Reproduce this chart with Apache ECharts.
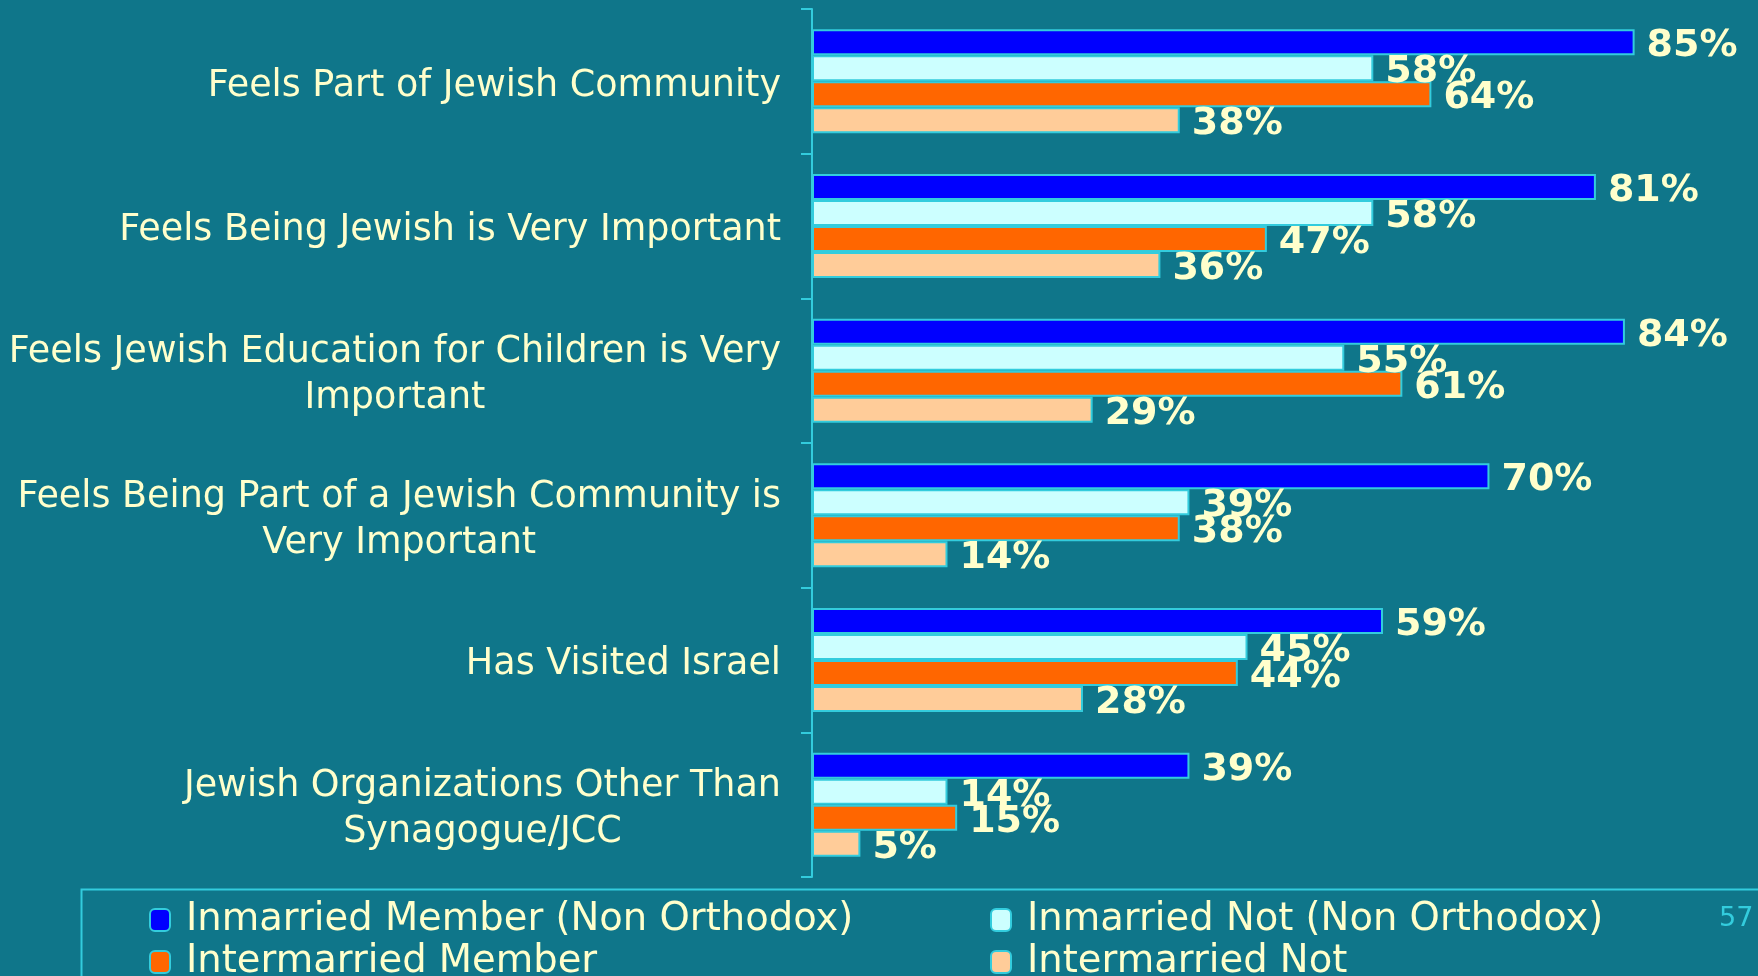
<!DOCTYPE html>
<html>
<head>
<meta charset="utf-8">
<script src="https://cdn.jsdelivr.net/npm/echarts@6/dist/echarts.min.js"></script>
<style>
html,body{margin:0;padding:0;background:#0f768a;}
#chart{width:1758px;height:976px;}
</style>
</head>
<body>
<div id="chart"></div>
<script>
const categories = [
  'Feels Part of Jewish Community',
  'Feels Being Jewish is Very Important',
  'Feels Jewish Education for Children is Very\nImportant',
  'Feels Being Part of a Jewish Community is\nVery Important',
  'Has Visited Israel',
  'Jewish Organizations Other Than\nSynagogue/JCC'
];
const seriesNames = [
  'Inmarried Member (Non Orthodox)',
  'Inmarried Not (Non Orthodox)',
  'Intermarried Member',
  'Intermarried Not'
];
const inmarriedMember = [85, 81, 84, 70, 59, 39];
const inmarriedNot = [58, 58, 55, 39, 45, 14];
const intermarriedMember = [64, 47, 61, 38, 44, 15];
const intermarriedNot = [38, 36, 29, 14, 28, 5];
const seriesValues = [inmarriedMember, inmarriedNot, intermarriedMember, intermarriedNot];
const seriesColors = ['#0000ff', '#ccffff', '#ff6600', '#ffcc99'];

const cream = '#ffffcc';
const cyan = '#33ccdd';
const font = 'DejaVu Sans';

const legendCommon = {
  type: 'plain',
  orient: 'vertical', top: 899, height: 140, padding: 0, itemGap: 0,
  itemWidth: 20, itemHeight: 22, itemTextGap: 14,
  textStyle: { color: cream, fontSize: 38.5, fontFamily: font, lineHeight: 42, padding: [0, 0, 0, 11] }
};

const chart = echarts.init(document.getElementById('chart'));
chart.setOption({
  backgroundColor: '#0f768a',
  animation: false,
  grid: { left: 812, right: 75, top: 9, bottom: 99, containLabel: false, outerBoundsMode: 'none' },
  xAxis: { type: 'value', min: 0, max: 90, show: false, splitLine: { show: false } },
  yAxis: {
    type: 'category',
    data: categories,
    inverse: true,
    axisLine: { show: true, lineStyle: { color: cyan, width: 2 } },
    axisTick: { show: true, length: 11, lineStyle: { color: cyan, width: 2 } },
    axisLabel: {
      margin: 31,
      fontSize: 36.5,
      fontFamily: font,
      color: cream,
      lineHeight: 46,
      padding: [10, 0, 0, 0],
      formatter: function (v) {
        return v.split('\n').map(function (l) { return '{c|' + l + '}'; }).join('\n');
      },
      rich: { c: { align: 'center', fontSize: 36.5, fontFamily: font, color: cream, lineHeight: 46 } }
    }
  },
  legend: [
    Object.assign({}, legendCommon, { data: [seriesNames[0], seriesNames[2]], left: 149 }),
    Object.assign({}, legendCommon, { data: [seriesNames[1], seriesNames[3]], left: 990 })
  ],
  graphic: [
    { type: 'rect', left: 79, top: 887, shape: { width: 1720, height: 150 },
      style: { fill: 'none', stroke: cyan, lineWidth: 2 }, silent: true },
    { type: 'text', left: 1719, top: 905,
      style: { text: '57', fill: cyan, fontSize: 27, fontFamily: font } }
  ],
  series: seriesNames.map(function (name, i) {
    return {
      name: name,
      type: 'bar',
      data: seriesValues[i],
      barWidth: 26,
      barGap: '0%',
      itemStyle: { color: seriesColors[i], borderColor: cyan, borderWidth: 2 },
      label: {
        show: true, position: 'right', distance: 12, offset: [0, 4],
        formatter: '{c}%', color: cream, fontSize: 38, fontWeight: 'bold', fontFamily: font
      }
    };
  })
});
</script>
</body>
</html>
